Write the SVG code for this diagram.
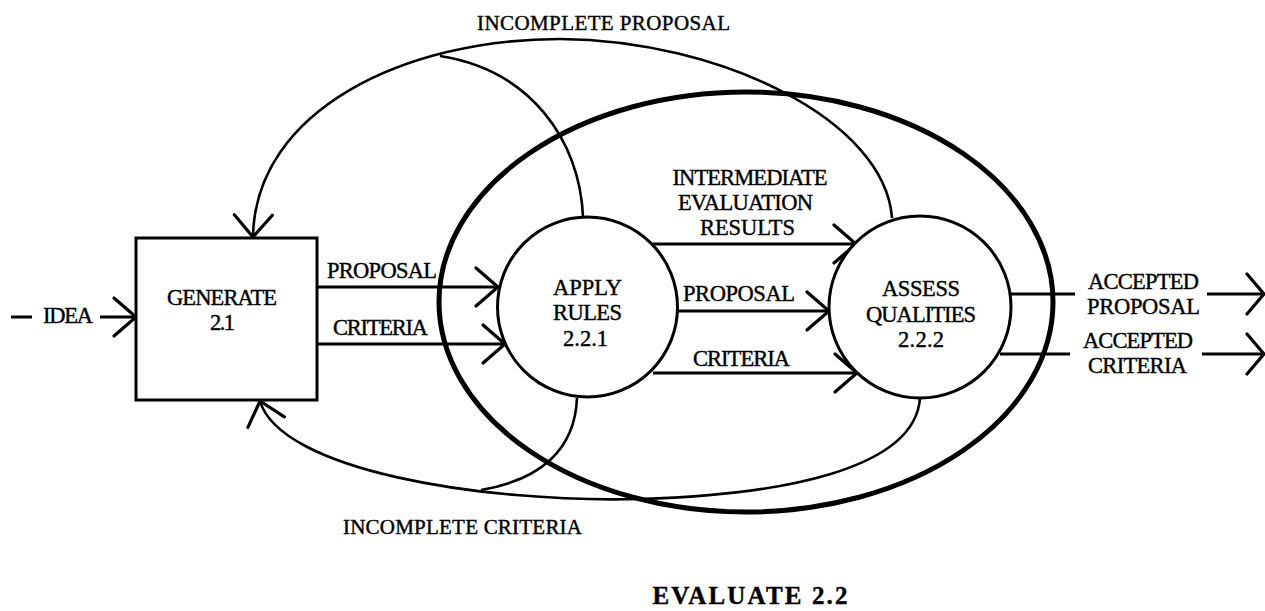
<svg xmlns="http://www.w3.org/2000/svg" width="1265" height="611" viewBox="0 0 1265 611">
<style>
  text { font-family: "Liberation Serif", "Times New Roman", serif; font-size: 22.5px; fill: #000; stroke: #000; stroke-width: 0.4; text-anchor: middle; }
  .title { font-size: 25px; font-weight: bold; }
  .lbl { font-size: 21px; }
  .node { fill: #fff; stroke: #000; stroke-width: 3; }
  .flow { fill: none; stroke: #000; stroke-width: 3; }
  .loop { fill: none; stroke: #000; stroke-width: 2.6; }
  .bound { fill: none; stroke: #000; stroke-width: 5; }
</style>
<defs>
  <marker id="arr" markerUnits="userSpaceOnUse" markerWidth="60" markerHeight="60" refX="0" refY="0" orient="auto" overflow="visible">
    <path d="M-22,-19 L0,0 L-22,19" fill="none" stroke="#000" stroke-width="3.2" stroke-linecap="round"/>
  </marker>
  <marker id="arr2" markerUnits="userSpaceOnUse" markerWidth="60" markerHeight="60" refX="0" refY="0" orient="auto" overflow="visible">
    <path d="M-17,-20 L0,0 L-17,20" fill="none" stroke="#000" stroke-width="3.2" stroke-linecap="round"/>
  </marker>
</defs>

<g id="evaluate-boundary">
  <ellipse cx="746" cy="302" rx="307" ry="210" class="bound"/>
  <text class="title" x="750" y="604" textLength="195" lengthAdjust="spacing">EVALUATE  2.2</text>
</g>

<g id="connectors">
  <!-- incomplete proposal loop -->
  <path class="loop" d="M892,218 C885,120 720,40 560,39 C405,39 255,110 253,237" marker-end="url(#arr)"/>
  <path class="loop" d="M583,217 C580,140 530,70 440,56"/>
  <!-- incomplete criteria loop -->
  <path class="loop" d="M920,398 C915,470 780,495 640,499 C480,503 280,470 260,401" marker-end="url(#arr)"/>
  <path class="loop" d="M577,398 C575,450 540,480 481,490"/>
  <!-- idea -->
  <line class="flow" x1="11" y1="317" x2="32" y2="317"/>
  <line class="flow" x1="100" y1="317" x2="136" y2="317" marker-end="url(#arr)"/>
  <!-- generate to apply -->
  <line class="flow" x1="317" y1="287" x2="498" y2="287" marker-end="url(#arr)"/>
  <line class="flow" x1="317" y1="344" x2="505" y2="344" marker-end="url(#arr)"/>
  <!-- apply to assess -->
  <line class="flow" x1="653" y1="244" x2="856" y2="244" marker-end="url(#arr)"/>
  <line class="flow" x1="678" y1="311" x2="829" y2="311" marker-end="url(#arr)"/>
  <line class="flow" x1="653" y1="373" x2="857" y2="373" marker-end="url(#arr)"/>
  <!-- outputs -->
  <line class="flow" x1="1011" y1="294" x2="1075" y2="294"/>
  <line class="flow" x1="1207" y1="294" x2="1264" y2="294" marker-end="url(#arr2)"/>
  <line class="flow" x1="1000" y1="354" x2="1070" y2="354"/>
  <line class="flow" x1="1202" y1="354" x2="1264" y2="354" marker-end="url(#arr2)"/>

  <!-- labels -->
  <text class="lbl" x="603.5" y="30" textLength="253" lengthAdjust="spacing">INCOMPLETE PROPOSAL</text>
  <text class="lbl" x="462.5" y="534" textLength="239" lengthAdjust="spacing">INCOMPLETE CRITERIA</text>
  <text x="68" y="323" textLength="50" lengthAdjust="spacing">IDEA</text>
  <text x="382" y="278" textLength="110" lengthAdjust="spacing">PROPOSAL</text>
  <text x="380.5" y="335" textLength="95" lengthAdjust="spacing">CRITERIA</text>
  <text x="750" y="185" textLength="155" lengthAdjust="spacing">INTERMEDIATE</text>
  <text x="745.5" y="210" textLength="135" lengthAdjust="spacing">EVALUATION</text>
  <text x="747.5" y="235" textLength="95" lengthAdjust="spacing">RESULTS</text>
  <text x="739" y="301" textLength="112" lengthAdjust="spacing">PROPOSAL</text>
  <text x="741.5" y="366" textLength="97" lengthAdjust="spacing">CRITERIA</text>
  <text x="1143.5" y="289" textLength="111" lengthAdjust="spacing">ACCEPTED</text>
  <text x="1143.5" y="314" textLength="113" lengthAdjust="spacing">PROPOSAL</text>
  <text x="1138" y="348" textLength="110" lengthAdjust="spacing">ACCEPTED</text>
  <text x="1137.5" y="373" textLength="99" lengthAdjust="spacing">CRITERIA</text>
</g>

<g id="generate">
  <rect x="136" y="238" width="181" height="162" class="node"/>
  <text x="222" y="305" textLength="110" lengthAdjust="spacing">GENERATE</text>
  <text x="222.5" y="330" textLength="25" lengthAdjust="spacing">2.1</text>
</g>

<g id="apply-rules">
  <circle cx="587.5" cy="307" r="90" class="node"/>
  <text x="587.5" y="295" textLength="69" lengthAdjust="spacing">APPLY</text>
  <text x="587.5" y="320" textLength="69" lengthAdjust="spacing">RULES</text>
  <text x="585.5" y="346" textLength="45" lengthAdjust="spacing">2.2.1</text>
</g>

<g id="assess-qualities">
  <circle cx="920" cy="307" r="91" class="node"/>
  <text x="921" y="296" textLength="78" lengthAdjust="spacing">ASSESS</text>
  <text x="921" y="322" textLength="110" lengthAdjust="spacing">QUALITIES</text>
  <text x="921" y="347" textLength="46" lengthAdjust="spacing">2.2.2</text>
</g>
</svg>
